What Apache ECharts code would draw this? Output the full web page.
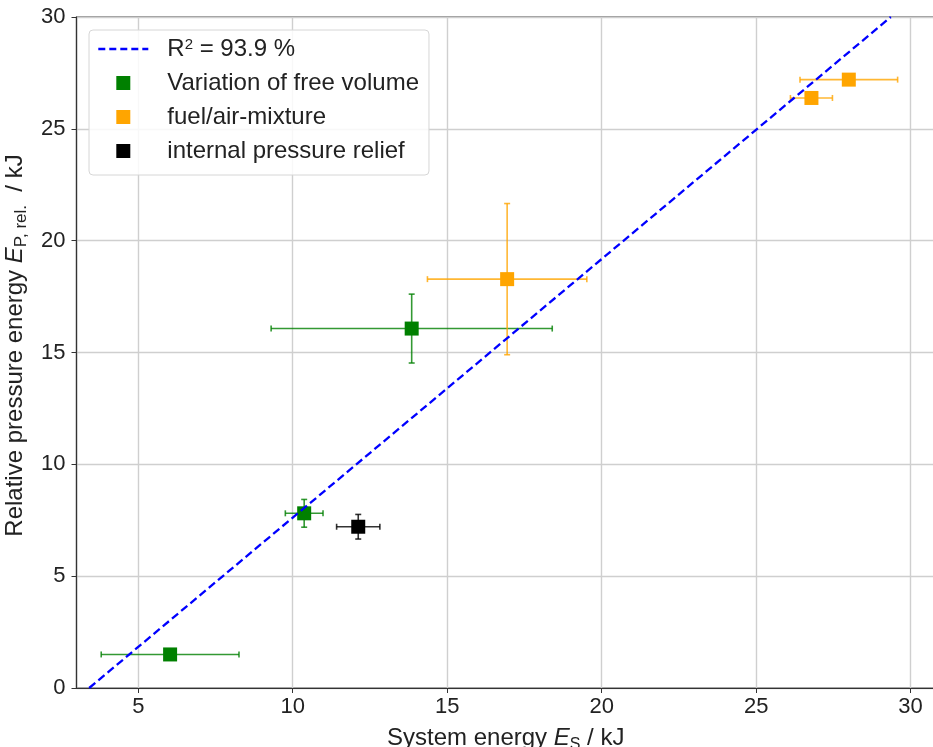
<!DOCTYPE html>
<html><head><meta charset="utf-8">
<script src="https://cdn.jsdelivr.net/npm/echarts@6/dist/echarts.min.js"></script>
<style>html,body{margin:0;padding:0;background:#fff}#c{width:933px;height:747px}</style>
</head><body><div id="c"></div>
<script>
// Variation of free volume (green)
const greenX    = [6.03, 10.37, 13.85];
const greenY    = [1.50, 7.81, 16.07];
const greenXErr = [2.23, 0.61, 4.55];
const greenYErr = [0.00, 0.62, 1.54];
// fuel/air-mixture (orange)
const orangeX    = [16.94, 26.79, 28.00];
const orangeY    = [18.28, 26.38, 27.20];
const orangeXErr = [2.58, 0.68, 1.58];
const orangeYErr = [3.38, 0.00, 0.00];
// internal pressure relief (black)
const blackX    = [12.12];
const blackY    = [7.21];
const blackXErr = [0.70];
const blackYErr = [0.55];
// regression line
const fitX = [3.41, 29.36];
const fitY = [0.0, 30.0];

const names = ['R{sup|2} = 93.9 %', 'Variation of free volume', 'fuel/air-mixture', 'internal pressure relief'];

const FONT = "'Liberation Sans', Arial, sans-serif";
const zip = (...a) => a[0].map((_, i) => a.map(arr => arr[i]));

function errSeries(name, xs, ys, xe, ye, color) {
  return {
    name: name, type: 'custom', z: 2, silent: true,
    data: zip(xs, ys, xe, ye),
    encode: { x: 0, y: 1 },
    renderItem: function (params, api) {
      const x = api.value(0), y = api.value(1), dx = api.value(2), dy = api.value(3);
      const l = api.coord([x - dx, y]), r = api.coord([x + dx, y]);
      const t = api.coord([x, y + dy]), b = api.coord([x, y - dy]);
      const cap = 3;
      const st = { stroke: color, lineWidth: 1.6, opacity: 0.8 };
      const seg = (x1, y1, x2, y2) => ({ type: 'line', shape: { x1, y1, x2, y2 }, style: st });
      const ch = [
        seg(l[0], l[1], r[0], r[1]),
        seg(l[0], l[1] - cap, l[0], l[1] + cap),
        seg(r[0], r[1] - cap, r[0], r[1] + cap)
      ];
      if (dy > 0) {
        ch.push(seg(t[0], t[1], b[0], b[1]));
        ch.push(seg(t[0] - cap, t[1], t[0] + cap, t[1]));
        ch.push(seg(b[0] - cap, b[1], b[0] + cap, b[1]));
      }
      return { type: 'group', children: ch };
    }
  };
}

function scatterSeries(name, xs, ys, color) {
  return {
    name: name, type: 'scatter', z: 3, symbol: 'rect', symbolSize: 14,
    itemStyle: { color: color, opacity: 1 },
    data: zip(xs, ys)
  };
}

function nameStyle(subSize, extra) {
  return Object.assign({
    fontFamily: FONT, fontSize: 24, color: '#222', lineHeight: 30,
    rich: {
      i: { fontFamily: FONT, fontSize: 24, fontStyle: 'italic', color: '#222', lineHeight: 30 },
      sub: { fontFamily: FONT, fontSize: subSize, color: '#222', lineHeight: subSize, verticalAlign: 'bottom' }
    }
  }, extra || {});
}

const chart = echarts.init(document.getElementById('c'), null, { renderer: 'canvas' });
const sq = 'path://M0,0L10,0L10,10L0,10Z';
chart.setOption({
  animation: false,
  textStyle: { fontFamily: FONT },
  grid: { left: 76.5, top: 17, right: -2, bottom: 59, containLabel: false, outerBoundsMode: 'none',
          show: true, borderColor: '#333', borderWidth: 1.2, backgroundColor: 'transparent' },
  legend: {
    orient: 'vertical', left: 89, top: 30, padding: [7, 10, 12, 8],
    itemWidth: 50, itemHeight: 14, itemGap: 10,
    backgroundColor: 'rgba(255,255,255,0.85)', borderColor: '#d6d6d6', borderWidth: 1, borderRadius: 4,
    selectedMode: false,
    textStyle: { fontFamily: FONT, fontSize: 24, color: '#222', lineHeight: 24, padding: [0, 0, 0, 14],
      rich: { sup: { fontFamily: FONT, fontSize: 15, color: '#222', lineHeight: 15, verticalAlign: 'top' } } },
    data: [
      { name: names[0], itemStyle: { opacity: 0, color: 'transparent', borderWidth: 0 },
        lineStyle: { color: '#0000ff', width: 2.6, type: [7, 4], opacity: 1 } },
      { name: names[1], icon: sq },
      { name: names[2], icon: sq },
      { name: names[3], icon: sq }
    ]
  },
  xAxis: {
    type: 'value', min: 3, max: 30.79, minInterval: 5, maxInterval: 5,
    name: 'System energy {i|E}{sub|S} / kJ', nameLocation: 'middle', nameGap: 29,
    nameTextStyle: nameStyle(16),
    axisLine: { show: true, lineStyle: { color: '#333', width: 1.2 } },
    axisTick: { show: true, length: 5, lineStyle: { color: '#333', width: 1 } },
    axisLabel: { fontFamily: FONT, fontSize: 22, color: '#222', margin: 8, showMinLabel: false, showMaxLabel: false },
    splitLine: { show: true, lineStyle: { color: '#cfcfcf', width: 1.4 } }
  },
  yAxis: {
    type: 'value', min: 0, max: 30, interval: 5,
    name: 'Relative pressure energy {i|E}{sub|P, rel.}  / kJ', nameLocation: 'middle', nameGap: 40,
    nameTextStyle: nameStyle(17, { padding: [0, 0, 0, 14] }),
    axisLine: { show: true, lineStyle: { color: '#333', width: 1.2 } },
    axisTick: { show: true, length: 5, lineStyle: { color: '#333', width: 1 } },
    axisLabel: { fontFamily: FONT, fontSize: 22, color: '#222', margin: 11 },
    splitLine: { show: true, lineStyle: { color: '#cfcfcf', width: 1.4 } }
  },
  series: [
    errSeries('err-green', greenX, greenY, greenXErr, greenYErr, '#008000'),
    errSeries('err-orange', orangeX, orangeY, orangeXErr, orangeYErr, '#ffa500'),
    errSeries('err-black', blackX, blackY, blackXErr, blackYErr, '#000000'),
    scatterSeries(names[1], greenX, greenY, '#008000'),
    scatterSeries(names[2], orangeX, orangeY, '#ffa500'),
    scatterSeries(names[3], blackX, blackY, '#000000'),
    {
      name: names[0], type: 'line', z: 4, symbol: 'none', silent: true,
      data: zip(fitX, fitY),
      lineStyle: { color: '#0000ff', width: 2.3, type: [8, 4] },
      itemStyle: { color: '#0000ff' }
    }
  ]
});
</script>
</body></html>
